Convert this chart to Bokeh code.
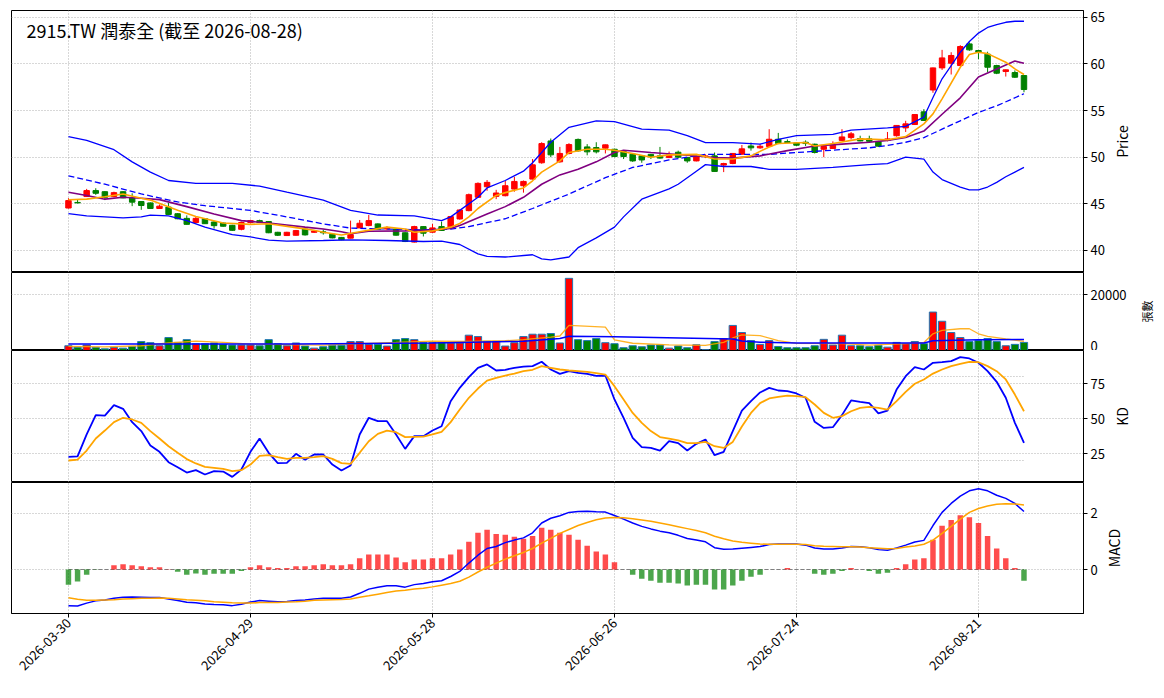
import math

from bokeh.core.properties import value
from bokeh.embed import file_html
from bokeh.layouts import column, row
from bokeh.models import FixedTicker, Label, Range1d
from bokeh.plotting import figure
from bokeh.resources import INLINE

FONT = "Noto Sans CJK TC"
TITLE = "2915.TW 潤泰全 (截至 2026-08-28)"

tick_idx = [0, 20, 40, 60, 80, 100]
tick_labels = ["2026-03-30", "2026-04-29", "2026-05-28", "2026-06-26", "2026-07-24", "2026-08-21"]

# daily candles, one entry per trading day
open_ = [44.55, 45.15, 45.78, 46.42, 46.3, 45.78, 46.3, 45.64, 45.25, 45.1,
         44.5, 44.65, 43.94, 43.44, 43.0, 43.4, 43.05, 42.94, 42.7, 42.27,
         43.0, 43.2, 43.1, 41.95, 41.6, 41.63, 42.3, 41.95, 42.0, 41.74,
         41.4, 41.32, 42.42, 42.67, 42.85, 42.3, 42.3, 41.9, 40.9, 42.56,
         41.96, 42.56, 42.5, 43.38, 44.27, 45.7, 46.83, 45.8, 45.87, 46.58,
         46.94, 47.65, 49.4, 51.74, 49.5, 50.4, 51.9, 51.1, 51.03, 50.96,
         50.85, 50.6, 50.32, 50.14, 50.3, 50.14, 49.96, 50.53, 49.96, 49.6,
         50.1, 50.14, 49.15, 49.32, 50.32, 51.2, 51.0, 51.14, 51.92, 51.67,
         51.53, 51.6, 51.39, 50.85, 50.93, 51.8, 52.1, 52.0, 51.96, 51.68,
         51.8, 52.3, 53.14, 53.5, 54.86, 57.2, 59.57, 60.07, 59.82, 62.14,
         61.43, 61.04, 59.82, 59.18, 59.07, 58.75]
high = [45.6, 45.5, 46.6, 46.67, 46.35, 46.3, 46.35, 46.13, 45.3, 45.15,
        44.93, 45.1, 44.0, 43.76, 43.65, 43.45, 43.15, 43.0, 42.75, 43.1,
        43.3, 43.3, 43.15, 42.0, 42.0, 42.2, 42.35, 42.15, 42.25, 41.8,
        41.45, 43.2, 43.27, 43.8, 42.9, 42.6, 42.35, 41.95, 42.65, 42.6,
        42.85, 43.1, 43.7, 44.4, 46.1, 47.3, 47.55, 46.5, 47.47, 47.9,
        47.5, 49.8, 51.6, 52.0, 51.1, 51.5, 52.0, 51.4, 51.6, 51.35,
        50.9, 50.65, 50.4, 50.2, 50.35, 51.1, 50.6, 50.7, 50.0, 50.2,
        50.3, 50.5, 49.4, 50.45, 51.3, 51.57, 51.4, 53.0, 52.6, 51.9,
        51.6, 51.8, 51.45, 51.2, 51.7, 53.0, 52.7, 52.3, 52.3, 51.75,
        52.7, 53.4, 53.9, 54.6, 55.15, 59.6, 61.5, 61.25, 62.0, 62.3,
        61.5, 61.3, 59.9, 59.4, 59.3, 58.8]
low = [44.5, 45.05, 45.75, 45.96, 45.4, 45.7, 45.6, 44.75, 44.36, 44.45,
       44.45, 43.85, 43.35, 42.78, 42.87, 42.85, 42.34, 42.55, 42.1, 42.16,
       42.9, 42.95, 41.85, 41.55, 41.55, 41.6, 41.6, 41.9, 41.7, 41.3,
       41.1, 41.3, 42.4, 42.6, 42.25, 42.2, 41.6, 40.9, 40.85, 41.5,
       41.9, 42.1, 42.45, 43.3, 44.2, 45.65, 46.4, 45.5, 45.8, 46.3,
       46.2, 47.6, 49.3, 50.0, 49.4, 50.3, 50.6, 50.2, 50.4, 50.4,
       50.0, 49.8, 49.5, 49.4, 49.8, 49.85, 49.9, 49.9, 49.4, 49.55,
       49.9, 48.45, 48.4, 49.25, 50.25, 50.7, 50.9, 51.1, 51.4, 51.5,
       51.2, 51.2, 50.4, 50.0, 50.9, 51.75, 51.9, 51.7, 51.6, 51.1,
       51.7, 52.2, 52.7, 53.45, 53.9, 56.9, 59.35, 58.86, 59.8, 61.4,
       60.5, 59.1, 58.9, 58.64, 58.5, 56.96]
close = [45.35, 45.1, 46.42, 46.13, 45.7, 46.2, 45.64, 45.18, 44.82, 44.5,
         44.75, 43.86, 43.4, 42.8, 43.44, 42.87, 42.66, 42.6, 42.16, 43.0,
         43.2, 43.0, 41.9, 41.63, 41.95, 42.13, 41.67, 42.08, 41.9, 41.35,
         41.15, 41.7, 42.92, 43.2, 42.28, 42.45, 41.64, 40.96, 42.56, 41.85,
         42.42, 42.14, 43.63, 44.34, 45.98, 47.19, 47.3, 46.16, 46.94, 47.4,
         47.4, 49.18, 51.46, 50.25, 50.4, 51.35, 50.68, 50.57, 50.57, 51.32,
         50.07, 50.07, 49.6, 49.7, 50.04, 49.9, 50.25, 50.0, 49.6, 50.07,
         50.12, 48.47, 49.32, 50.4, 50.89, 51.0, 51.17, 51.92, 51.46, 51.57,
         51.28, 51.46, 50.5, 51.14, 51.28, 52.17, 52.5, 51.74, 51.7, 51.18,
         51.96, 53.4, 53.57, 54.57, 53.93, 59.57, 60.64, 60.9, 61.86, 61.5,
         61.25, 59.64, 59.0, 59.36, 58.57, 57.25]

# price overlays, read as (day index, value)
ma5 = [(0, 45.43), (2, 45.5), (4, 45.75), (6, 46.06), (8, 45.6), (9, 45.4), (12, 44.3),
       (14, 43.65), (17, 42.94), (20, 42.8), (22, 42.87), (25, 42.45), (27, 42.16),
       (28, 41.96), (30, 41.65), (32, 42.0), (35, 42.5), (37, 42.3), (38, 41.96),
       (40, 42.1), (42, 42.5), (43, 42.9), (44, 43.6), (45, 44.5), (47, 45.9),
       (48, 46.2), (50, 46.7), (51, 47.47), (52, 48.4), (54, 49.6), (55, 50.5),
       (57, 50.85), (59, 50.85), (60, 50.75), (62, 50.4), (64, 50.0), (66, 50.25),
       (69, 50.3), (71, 49.8), (73, 49.8), (75, 50.14), (77, 51.1), (78, 51.46),
       (81, 51.57), (82, 51.2), (84, 51.46), (87, 51.96), (90, 51.86), (92, 52.2),
       (94, 53.57), (95, 54.64), (96, 56.25), (98, 59.64), (99, 61.0), (100, 61.25),
       (101, 61.1), (103, 60.18), (104, 59.46), (105, 58.86)]
ma10 = [(0, 46.24), (2, 45.9), (4, 45.5), (6, 45.7), (8, 45.6), (10, 45.45), (13, 44.7),
        (16, 43.9), (19, 43.2), (22, 42.95), (26, 42.5), (28, 42.3), (30, 42.0),
        (31, 41.8), (33, 42.06), (37, 42.1), (40, 42.2), (42, 42.35), (43, 42.67),
        (46, 43.9), (48, 44.7), (50, 45.7), (52, 47.1), (54, 48.1), (56, 48.7),
        (58, 49.5), (60, 50.5), (61, 50.75), (64, 50.5), (68, 50.2), (71, 49.96),
        (73, 49.9), (76, 50.14), (79, 50.7), (82, 51.2), (85, 51.4), (88, 51.6),
        (90, 51.8), (92, 52.1), (94, 52.8), (96, 54.6), (98, 56.36), (100, 58.6),
        (102, 59.46), (104, 60.3), (105, 60.07)]
ma20 = [(0, 48.0), (4, 47.1), (8, 46.06), (12, 45.2), (15, 44.8), (20, 44.3), (24, 43.6),
        (28, 42.85), (31, 42.4), (35, 42.3), (39, 42.2), (42, 42.3), (44, 42.56),
        (48, 43.4), (51, 44.5), (55, 46.05), (59, 47.8), (62, 48.9), (66, 49.7),
        (70, 50.3), (73, 50.3), (77, 50.3), (80, 50.5), (84, 50.75), (88, 51.0),
        (90, 51.25), (92, 51.6), (94, 52.1), (96, 53.0), (98, 53.9), (100, 54.8),
        (102, 55.5), (105, 56.8)]
bb_upper = [(0, 52.2), (2, 51.8), (5, 50.8), (7, 49.5), (9, 48.4), (11, 47.5), (14, 47.2),
            (18, 47.2), (21, 46.9), (24, 46.25), (28, 45.4), (31, 44.3), (34, 43.8),
            (38, 43.7), (41, 43.2), (42, 43.6), (43, 44.3), (45, 45.7), (46, 46.7),
            (48, 47.5), (50, 48.5), (51, 49.4), (53, 51.6), (55, 53.2), (58, 53.9),
            (60, 53.8), (63, 53.0), (66, 52.9), (68, 52.3), (70, 51.57), (73, 51.57),
            (76, 51.4), (78, 51.9), (80, 52.3), (84, 52.45), (86, 52.9), (90, 53.14),
            (92, 53.3), (94, 54.3), (95, 56.4), (96, 58.4), (97, 59.8), (98, 61.25),
            (99, 62.4), (100, 63.3), (101, 63.9), (102, 64.2), (103, 64.46), (104, 64.57),
            (105, 64.57)]
bb_lower = [(0, 43.95), (2, 43.7), (6, 43.5), (8, 43.6), (9, 43.8), (11, 43.7), (13, 43.2),
            (15, 42.5), (18, 41.7), (20, 41.45), (22, 41.1), (24, 41.0), (28, 41.07),
            (31, 41.14), (35, 41.07), (39, 40.96), (41, 41.0), (43, 40.64), (45, 39.64),
            (46, 39.36), (48, 39.3), (51, 39.54), (52, 39.1), (53, 39.0), (55, 39.3),
            (56, 40.3), (58, 41.35), (60, 42.5), (61, 43.6), (63, 45.5), (66, 46.6),
            (67, 47.1), (69, 48.5), (70, 49.2), (72, 49.0), (75, 49.0), (77, 48.7),
            (80, 48.7), (84, 48.9), (88, 49.2), (90, 49.3), (92, 50.0), (94, 49.8),
            (95, 48.4), (96, 47.6), (98, 46.8), (99, 46.5), (100, 46.5), (101, 46.8),
            (102, 47.3), (103, 47.9), (104, 48.4), (105, 48.9)]

volume = [1700, 1200, 1950, 1100, 600, 1100, 850, 1450, 3200, 2800,
          1700, 4650, 2900, 3900, 2450, 2450, 2700, 2200, 1950, 1950,
          1950, 1700, 3900, 2450, 1700, 2700, 1600, 850, 1350, 1850,
          1850, 3200, 3200, 2200, 2200, 1600, 3900, 4300, 3900, 2900,
          2900, 2900, 2700, 2700, 5500, 5000, 3300, 3300, 1600, 2800,
          5000, 5850, 5850, 6100, 2700, 25900, 3900, 3550, 4300, 2800,
          2450, 1000, 1700, 1350, 1950, 1950, 850, 1600, 1000, 2050,
          300, 3200, 4300, 9000, 6450, 3550, 2200, 3550, 1450, 1000,
          1000, 1000, 1700, 4000, 1950, 5500, 1700, 1700, 1350, 1850,
          1200, 2900, 2450, 3200, 2450, 13800, 10500, 6450, 4650, 3200,
          3550, 4300, 3200, 1700, 2200, 2900]
vol_ma5 = [(0, 1450), (4, 1300), (8, 1700), (11, 2700), (14, 3400), (17, 2900), (20, 2300),
           (24, 2100), (28, 1900), (32, 2500), (36, 2900), (40, 3400), (44, 3300),
           (48, 3500), (50, 3900), (53, 4800), (54, 5200), (55, 9000), (59, 8400),
           (60, 3800), (62, 2600), (66, 2000), (70, 1850), (72, 2900), (73, 4500),
           (74, 5600), (76, 5350), (78, 3550), (80, 2550), (85, 2500), (88, 1950),
           (92, 2500), (94, 2900), (95, 6000), (96, 7200), (98, 7800), (99, 7800),
           (100, 6000), (101, 5100), (103, 4150), (105, 3300)]
vol_ma20 = [(0, 2300), (25, 2300), (40, 2700), (50, 3300), (53, 4000), (54, 4300),
            (55, 5100), (60, 4900), (73, 4150), (74, 3400), (76, 3000), (80, 2700),
            (94, 2700), (95, 3500), (100, 3900), (105, 3950)]

k_line = [22.6, 22.9, 38.6, 52.4, 52.1, 59.5, 56.9, 47.4, 41.0, 30.7,
          26.2, 18.8, 15.2, 11.4, 13.1, 10.0, 12.4, 12.1, 8.3, 13.6,
          26.2, 35.7, 25.5, 18.1, 18.3, 24.8, 20.5, 24.3, 24.3, 17.1,
          12.9, 16.4, 38.6, 50.5, 48.1, 48.1, 38.6, 28.3, 37.4, 37.4,
          41.4, 44.5, 62.4, 71.9, 79.5, 86.2, 88.6, 84.3, 84.8, 86.2,
          87.1, 87.4, 90.5, 85.0, 81.9, 83.8, 82.6, 81.9, 80.5, 80.7,
          63.6, 50.5, 36.2, 29.5, 29.0, 27.1, 33.8, 32.4, 27.1, 31.9,
          35.0, 23.8, 26.2, 41.0, 55.7, 62.4, 68.6, 71.9, 70.0, 69.5,
          67.9, 64.8, 47.6, 43.3, 43.8, 52.4, 62.9, 61.9, 61.0, 53.6,
          55.7, 70.7, 80.2, 86.7, 85.0, 89.8, 90.2, 91.0, 93.8, 92.9,
          89.8, 83.8, 76.2, 64.8, 46.9, 32.6]
d_line = [20.0, 20.7, 27.1, 35.7, 41.4, 47.4, 50.5, 49.3, 46.9, 41.0,
          35.7, 30.2, 25.5, 21.0, 17.9, 15.5, 14.8, 14.0, 12.4, 13.1,
          17.1, 23.3, 23.8, 22.4, 21.2, 21.9, 21.9, 22.4, 23.1, 21.2,
          18.1, 17.6, 25.5, 33.8, 39.0, 41.4, 40.2, 36.7, 36.9, 37.1,
          38.6, 40.5, 47.4, 56.4, 64.8, 71.4, 77.1, 79.0, 80.7, 82.1,
          83.8, 84.8, 87.4, 86.2, 85.0, 84.3, 83.8, 83.3, 82.4, 81.4,
          73.1, 63.6, 54.0, 46.9, 41.0, 36.7, 35.7, 34.3, 32.4, 32.4,
          33.3, 30.2, 29.0, 33.3, 44.3, 54.0, 61.0, 64.3, 65.5, 66.4,
          66.0, 65.2, 60.0, 54.0, 50.5, 51.7, 55.2, 57.6, 58.3, 57.6,
          56.4, 62.4, 69.0, 74.8, 77.9, 82.1, 85.0, 87.4, 89.0, 90.5,
          90.2, 87.4, 83.8, 77.9, 67.1, 55.2]
kd_levels = [20, 80]

macd_hist = [-0.54, -0.43, -0.19, -0.01, 0.0, 0.15, 0.19, 0.15, 0.12, 0.08,
             0.08, 0.01, -0.08, -0.19, -0.14, -0.19, -0.15, -0.15, -0.15, -0.05,
             0.08, 0.15, 0.08, 0.05, 0.05, 0.12, 0.12, 0.15, 0.19, 0.15,
             0.15, 0.19, 0.40, 0.54, 0.54, 0.54, 0.43, 0.26, 0.36, 0.36,
             0.40, 0.40, 0.54, 0.71, 0.99, 1.31, 1.42, 1.27, 1.24, 1.17,
             1.10, 1.20, 1.49, 1.42, 1.31, 1.24, 1.06, 0.85, 0.64, 0.54,
             0.26, 0.0, -0.19, -0.33, -0.40, -0.47, -0.47, -0.50, -0.57, -0.54,
             -0.54, -0.71, -0.71, -0.57, -0.40, -0.26, -0.19, 0.0, 0.0, 0.05,
             0.0, 0.0, -0.15, -0.19, -0.15, -0.05, 0.05, 0.0, -0.05, -0.15,
             -0.12, 0.05, 0.19, 0.36, 0.40, 1.06, 1.56, 1.77, 1.94, 1.87,
             1.66, 1.20, 0.75, 0.40, 0.05, -0.40]
dif = [-1.29, -1.30, -1.20, -1.12, -1.09, -1.03, -0.99, -0.98, -0.99, -1.0,
       -1.0, -1.05, -1.11, -1.17, -1.19, -1.23, -1.25, -1.26, -1.29, -1.24,
       -1.16, -1.11, -1.13, -1.15, -1.14, -1.11, -1.09, -1.05, -1.03, -1.03,
       -1.03, -0.98, -0.85, -0.70, -0.63, -0.58, -0.58, -0.63, -0.54, -0.50,
       -0.44, -0.40, -0.25, -0.07, 0.23, 0.51, 0.75, 0.82, 0.96, 1.05,
       1.13, 1.31, 1.66, 1.83, 1.92, 2.04, 2.07, 2.08, 2.06, 2.05,
       1.93, 1.80, 1.66, 1.54, 1.45, 1.37, 1.31, 1.22, 1.11, 1.05,
       0.99, 0.78, 0.72, 0.73, 0.76, 0.79, 0.82, 0.89, 0.91, 0.91,
       0.91, 0.87, 0.77, 0.73, 0.73, 0.77, 0.82, 0.81, 0.78, 0.71,
       0.69, 0.77, 0.87, 0.98, 1.04, 1.57, 2.04, 2.36, 2.62, 2.81,
       2.88, 2.81, 2.65, 2.54, 2.36, 2.07]
dea = [-1.01, -1.06, -1.10, -1.10, -1.09, -1.08, -1.05, -1.04, -1.03, -1.03,
       -1.02, -1.03, -1.05, -1.08, -1.10, -1.12, -1.15, -1.17, -1.19, -1.20,
       -1.20, -1.18, -1.18, -1.18, -1.16, -1.15, -1.13, -1.10, -1.09, -1.08,
       -1.07, -1.05, -0.99, -0.94, -0.88, -0.82, -0.77, -0.74, -0.70, -0.67,
       -0.62, -0.56, -0.50, -0.42, -0.27, -0.09, 0.08, 0.23, 0.37, 0.49,
       0.61, 0.75, 0.94, 1.11, 1.29, 1.43, 1.57, 1.68, 1.78, 1.84,
       1.86, 1.85, 1.81, 1.77, 1.72, 1.66, 1.60, 1.53, 1.46, 1.39,
       1.31, 1.19, 1.10, 1.02, 0.97, 0.94, 0.91, 0.90, 0.90, 0.90,
       0.90, 0.89, 0.85, 0.83, 0.82, 0.81, 0.81, 0.80, 0.78, 0.76,
       0.74, 0.75, 0.80, 0.84, 0.90, 1.05, 1.29, 1.54, 1.80, 2.04,
       2.18, 2.27, 2.33, 2.35, 2.34, 2.30]

UP, DOWN = "#ff0000", "#008000"
GRID = "#b0b0b0"
TOTAL_W = 1161
FRAME_L, FRAME_W = 11, 1072

idx = list(range(len(close)))
x_range = Range1d(-6.26, 111.54)


def panel(height, y_start, y_end, yticks, right, top=0, bottom=0):
    p = figure(
        width=FRAME_L + FRAME_W + right,
        height=height,
        x_range=x_range,
        y_range=Range1d(y_start, y_end),
        x_axis_location="below" if bottom else None,
        y_axis_location="right",
        output_backend="svg",
        toolbar_location=None,
        min_border_left=FRAME_L,
        min_border_right=right,
        min_border_top=top,
        min_border_bottom=bottom,
    )
    p.outline_line_color = "black"
    p.outline_line_width = 1
    p.xgrid.ticker = FixedTicker(ticks=tick_idx)
    for g in (p.xgrid, p.ygrid):
        g.grid_line_color = GRID
        g.grid_line_dash = "1 2"
        g.grid_line_width = 1
    ax = p.yaxis[0]
    ax.ticker = FixedTicker(ticks=yticks)
    ax.major_label_text_font = FONT
    ax.major_label_text_font_size = "13px"
    ax.major_label_text_color = "black"
    ax.major_label_standoff = 3
    ax.major_tick_in = 0
    ax.major_tick_out = 4
    ax.minor_tick_in = 0
    ax.minor_tick_out = 0
    ax.axis_line_color = "black"
    if bottom:
        xa = p.xaxis[0]
        xa.ticker = FixedTicker(ticks=tick_idx)
        xa.major_label_overrides = {t: lab for t, lab in zip(tick_idx, tick_labels)}
        xa.major_label_orientation = math.pi / 4
        xa.major_label_text_font = FONT
        xa.major_label_text_font_size = "13px"
        xa.major_label_text_color = "black"
        xa.major_label_standoff = 3
        xa.major_tick_in = 0
        xa.major_tick_out = 4
        xa.minor_tick_in = 0
        xa.minor_tick_out = 0
        xa.axis_line_color = "black"
    return p


def side_label(main, text, center_x, size="14px"):
    """Narrow strip right of a panel holding its vertical label (reads bottom to top)."""
    w = TOTAL_W - main.width
    top, bottom = main.min_border_top, main.min_border_bottom
    frame_h = main.height - top - bottom
    s = figure(width=w, height=main.height, x_range=Range1d(0, w), y_range=Range1d(0, frame_h),
               x_axis_location=None, y_axis_location=None, output_backend="svg",
               toolbar_location=None, min_border_left=0, min_border_right=0,
               min_border_top=top, min_border_bottom=bottom)
    s.outline_line_color = None
    s.xgrid.visible = False
    s.ygrid.visible = False
    s.text(x=[center_x - main.width], y=[frame_h / 2], text=[text], angle=math.pi / 2,
           text_align="center", text_baseline="middle", text_font=value(FONT),
           text_font_size=value(size), text_color="black")
    return row(main, s)


def anchors(points):
    return [a for a, _ in points], [b for _, b in points]


up = [c >= o for o, c in zip(open_, close)]
candle_color = [UP if u else DOWN for u in up]

# --- price panel ---
p1 = panel(272, 37.64, 65.72, [40, 45, 50, 55, 60, 65], right=24, top=10)
p1.segment(x0=idx, y0=low, x1=idx, y1=high, color=candle_color, line_width=1)
p1.vbar(x=idx, width=0.6,
        top=[max(o, c) for o, c in zip(open_, close)],
        bottom=[min(o, c) for o, c in zip(open_, close)],
        fill_color=candle_color, line_color=candle_color, line_width=1)
for pts, color, dash, lw in [(bb_upper, "#0000ff", "solid", 1.3),
                             (bb_lower, "#0000ff", "solid", 1.3),
                             (ma20, "#0000ff", "6 3", 1.3),
                             (ma10, "#800080", "solid", 1.6),
                             (ma5, "#ffa500", "solid", 1.6)]:
    xs, ys = anchors(pts)
    p1.line(xs, ys, line_color=color, line_dash=dash, line_width=lw)
p1.add_layout(Label(x=-4.6, y=63.6, text=TITLE, text_font=FONT, text_font_size="18px",
                    text_baseline="middle", text_color="black"))

# --- volume panel ---
p2 = panel(78, 0, 28000, [0, 20000], right=50)
# "0" sits on the seam between panels: lift the labels so it is not clipped
p2.yaxis[0].major_label_text_baseline = "bottom"
p2.vbar(x=idx, width=0.8, top=volume, bottom=0, fill_color=candle_color,
        line_color="#1f77b4", line_width=1)
xs, ys = anchors(vol_ma5)
p2.line(xs, ys, line_color="#ffa500", line_width=1.3, line_alpha=0.85)
xs, ys = anchors(vol_ma20)
p2.line(xs, ys, line_color="#0000ff", line_width=1.5)

# --- KD panel ---
p3 = panel(132, 4.29, 98.57, [25, 50, 75], right=24)
for lvl in kd_levels:
    p3.line([idx[0], idx[-1]], [lvl, lvl], line_color=GRID, line_dash="1 2", line_width=1)
p3.line(idx, k_line, line_color="#0000ff", line_width=1.8)
p3.line(idx, d_line, line_color="#ffa500", line_width=1.8)

# --- MACD panel ---
p4 = panel(211, -1.571, 3.107, [0, 2], right=20, bottom=80)
p4.line([idx[0], idx[-1]], [0, 0], line_color="#808080", line_dash="4 2", line_width=1)
p4.vbar(x=idx, width=0.6, top=macd_hist, bottom=0,
        fill_color=[UP if h >= 0 else DOWN for h in macd_hist], fill_alpha=0.7,
        line_color=None)
p4.line(idx, dif, line_color="#0000ff", line_width=1.5)
p4.line(idx, dea, line_color="#ffa500", line_width=1.5)

layout = column(
    side_label(p1, "Price", 1121),
    side_label(p2, "張數", 1146, size="11px"),
    side_label(p3, "KD", 1121),
    side_label(p4, "MACD", 1113),
)
open("out.html", "w").write(file_html(layout, INLINE))
